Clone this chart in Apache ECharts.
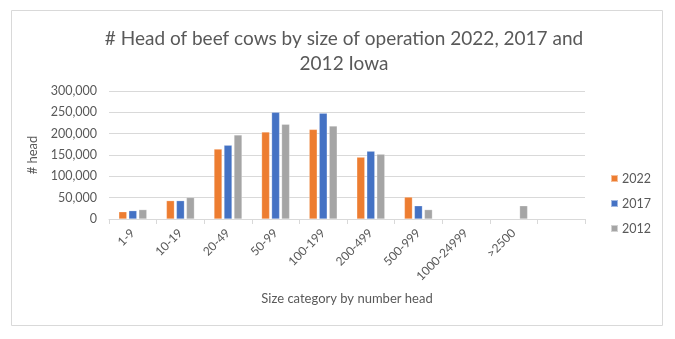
<!DOCTYPE html>
<html><head><meta charset="utf-8">
<script src="https://cdn.jsdelivr.net/npm/echarts@6/dist/echarts.min.js"></script>
<style>html,body{margin:0;padding:0;background:#fff}#c{width:675px;height:339px}</style>
</head><body><div id="c"></div>
<script>
const categories = ['1-9','10-19','20-49','50-99','100-199','200-499','500-999','1000-24999','>2500',''];
const v2022 = [17000, 43000, 164000, 204000, 210000, 145000, 51500, null, null, null];
const v2017 = [19500, 43000, 173000, 250000, 248000, 159000, 31000, null, null, null];
const v2012 = [22000, 50500, 197000, 222000, 218000, 152000, 22000, null, 31000, null];
const yTicks = [0, 50000, 100000, 150000, 200000, 250000, 300000];

const font = 'Lato, Liberation Sans, Arial, sans-serif';
const grey = '#595959';
const chart = echarts.init(document.getElementById('c'), null, {renderer:'canvas'});
const mk = (name, data, color) => ({
  name, type:'bar', data, barWidth:8, barGap:'25%',
  itemStyle:{color, borderColor:'rgba(255,255,255,0.5)', borderWidth:0.5}
});
chart.setOption({
  animation:false,
  textStyle:{fontFamily:font},
  graphic:[{type:'rect', shape:{x:11.5,y:10.5,width:651,height:315}, style:{fill:'none', stroke:'#d9d9d9', lineWidth:1}, silent:true, z:-1}],
  title:{
    text:'# Head of beef cows by size of operation 2022, 2017 and\n2012 Iowa',
    left:339, textAlign:'center', top:21,
    textStyle:{fontFamily:font, fontSize:19, fontWeight:'normal', color:grey, lineHeight:25}
  },
  legend:{
    orient:'vertical', left:605, top:167, itemWidth:7, itemHeight:7, itemGap:12,
    icon:'rect',
    textStyle:{fontFamily:font, fontSize:12.5, color:grey, padding:[0,0,0,-1]},
    data:['2022','2017','2012']
  },
  grid:{left:109, right:90, top:91, bottom:120},
  xAxis:{
    type:'category', data:categories,
    name:'Size category by number head', nameLocation:'middle', nameGap:73,
    nameTextStyle:{fontFamily:font, fontSize:13, color:grey},
    axisLine:{lineStyle:{color:'#d9d9d9'}},
    axisTick:{show:true, length:5, lineStyle:{color:'#d9d9d9'}},
    axisLabel:{rotate:45, interval:0, fontSize:12, color:grey, margin:12, fontFamily:font}
  },
  yAxis:{
    type:'value', min:yTicks[0], max:yTicks[yTicks.length-1], interval:50000,
    name:'# head', nameLocation:'middle', nameGap:68, nameRotate:90,
    nameTextStyle:{fontFamily:font, fontSize:13, color:grey},
    axisLine:{show:false}, axisTick:{show:false},
    splitLine:{lineStyle:{color:'#d9d9d9'}},
    axisLabel:{fontSize:12.5, color:grey, margin:12, fontFamily:font,
      formatter:v => v.toLocaleString('en-US')}
  },
  series:[mk('2022', v2022, '#ED7D31'), mk('2017', v2017, '#4472C4'), mk('2012', v2012, '#A5A5A5')]
});
</script></body></html>
